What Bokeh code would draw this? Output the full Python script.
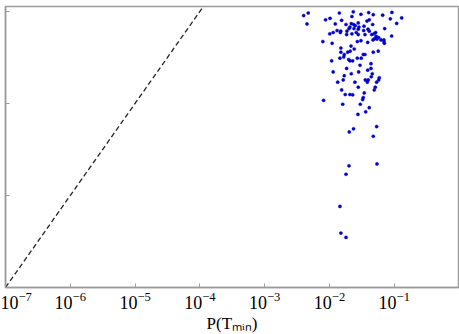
from bokeh.plotting import figure
from bokeh.embed import file_html
from bokeh.resources import INLINE
from bokeh.models import Range1d, FixedTicker

# Reference line y = x
diag_x = [1e-7, 1e-3]
diag_y = [1e-7, 1e-3]

# Scatter points: P(T_min) vs. value
px = [0.0040, 0.0047, 0.0045, 0.0087, 0.0102, 0.0142, 0.0123, 0.0154, 0.0233, 0.0222,
      0.0306, 0.0403, 0.0474, 0.0662, 0.092, 0.087, 0.130, 0.109, 0.0379, 0.0411,
      0.0464, 0.0278, 0.0217, 0.0236, 0.0250, 0.0207, 0.0180, 0.0341, 0.0285, 0.0239,
      0.0200, 0.0278, 0.0393, 0.0711, 0.0131, 0.0149, 0.0147, 0.0114, 0.0101, 0.0186,
      0.0222, 0.0184, 0.0259, 0.0278, 0.0337, 0.0353, 0.0411, 0.0448, 0.0486, 0.0516,
      0.0527, 0.0498, 0.0541, 0.0469, 0.0574, 0.0623, 0.0693, 0.0693, 0.0703, 0.091,
      0.0269, 0.0306, 0.0389, 0.0079, 0.0110, 0.0150, 0.0215, 0.0241, 0.0209, 0.0150,
      0.0191, 0.0169, 0.0166, 0.0145, 0.0332, 0.0353, 0.0474, 0.0566, 0.0198, 0.0207,
      0.0228, 0.0269, 0.0309, 0.0108, 0.0437, 0.0296, 0.0184, 0.0437, 0.0389, 0.0282,
      0.0458, 0.0114, 0.0217, 0.0169, 0.0442, 0.0163, 0.0357, 0.0397, 0.0383, 0.0587,
      0.0574, 0.0535, 0.0134, 0.0247, 0.0278, 0.0509, 0.0491, 0.0154, 0.0344, 0.0175,
      0.0207, 0.0228, 0.0332, 0.0325, 0.0081, 0.0160, 0.0299, 0.0411, 0.0362, 0.0275,
      0.0235, 0.0535, 0.0202, 0.0474, 0.0541, 0.0200, 0.0180, 0.0145, 0.0150, 0.0180]
py = [9.0e-5, 9.6e-5, 7.3e-5, 8.1e-5, 8.4e-5, 9.6e-5, 7.3e-5, 8.0e-5, 9.9e-5, 8.8e-5,
      9.3e-5, 9.7e-5, 9.2e-5, 9.1e-5, 9.75e-5, 8.3e-5, 8.5e-5, 7.4e-5, 7.85e-5, 8.1e-5,
      7.2e-5, 7.5e-5, 7.35e-5, 7.2e-5, 7.0e-5, 6.75e-5, 7.2e-5, 6.9e-5, 6.75e-5, 6.5e-5,
      6.5e-5, 6.4e-5, 6.4e-5, 6.5e-5, 6.2e-5, 6.1e-5, 5.9e-5, 5.9e-5, 5.7e-5, 6.1e-5,
      5.7e-5, 5.6e-5, 5.9e-5, 5.6e-5, 6.2e-5, 5.6e-5, 6.1e-5, 5.6e-5, 5.7e-5, 5.9e-5,
      5.35e-5, 5.05e-5, 5.0e-5, 4.9e-5, 5.2e-5, 4.9e-5, 4.9e-5, 4.7e-5, 4.5e-5, 5.4e-5,
      4.7e-5, 4.8e-5, 4.6e-5, 4.7e-5, 4.5e-5, 4.0e-5, 4.2e-5, 3.9e-5, 3.7e-5, 3.6e-5,
      3.6e-5, 3.4e-5, 3.2e-5, 3.1e-5, 3.4e-5, 3.4e-5, 3.6e-5, 3.7e-5, 3.0e-5, 2.9e-5,
      2.9e-5, 3.1e-5, 3.1e-5, 2.9e-5, 2.7e-5, 2.6e-5, 2.4e-5, 2.4e-5, 2.3e-5, 2.2e-5,
      2.1e-5, 2.2e-5, 2.1e-5, 2.0e-5, 1.95e-5, 1.8e-5, 1.8e-5, 1.8e-5, 1.7e-5, 1.9e-5,
      1.8e-5, 1.7e-5, 1.7e-5, 1.7e-5, 1.5e-5, 1.5e-5, 1.4e-5, 1.4e-5, 1.3e-5, 1.25e-5,
      1.25e-5, 1.24e-5, 1.16e-5, 1.1e-5, 1.08e-5, 9.8e-6, 9.8e-6, 9.0e-6, 8.1e-6, 7.6e-6,
      5.3e-6, 5.6e-6, 4.9e-6, 4.4e-6, 2.2e-6, 2.1e-6, 1.7e-6, 7.6e-7, 3.9e-7, 3.5e-7]

x_ticks = [1e-7, 1e-6, 1e-5, 1e-4, 1e-3, 1e-2, 1e-1]
y_ticks = [1e-7, 1e-6, 1e-5, 1e-4]
x_label = "P(Tₘᵢₙ)"

p = figure(x_axis_type="log", y_axis_type="log",
           x_range=Range1d(1e-7, 0.98), y_range=Range1d(1e-7, 1.13e-4),
           frame_width=453, frame_height=281,
           min_border_left=5, min_border_top=6, min_border_right=1, min_border_bottom=0,
           output_backend="svg", toolbar_location=None)

p.line(diag_x, diag_y, line_color="#222222", line_width=1.3, line_dash="5 3")
p.scatter(px, py, size=3.2, fill_color="#0000c8", line_color="#0000c8", line_width=0.4)

grey = "#9a9a9a"
p.outline_line_color = grey
p.outline_line_width = 1.5
p.xgrid.visible = False
p.ygrid.visible = False

p.xaxis.ticker = FixedTicker(ticks=x_ticks)
p.yaxis.ticker = FixedTicker(ticks=y_ticks)
for ax in (p.xaxis, p.yaxis):
    ax.axis_line_color = grey
    ax.axis_line_width = 1.5
    ax.major_tick_line_color = grey
    ax.major_tick_in = 4
    ax.major_tick_out = 0
    ax.minor_tick_line_color = None

p.xaxis.major_label_text_font = "Liberation Serif"
p.xaxis.major_label_text_font_size = "18px"
p.xaxis.major_label_text_color = "black"
p.xaxis.major_label_standoff = 4
p.xaxis.axis_label = x_label
p.xaxis.axis_label_text_font = "Liberation Serif"
p.xaxis.axis_label_text_font_style = "normal"
p.xaxis.axis_label_text_font_size = "17px"
p.xaxis.axis_label_text_color = "black"
p.xaxis.axis_label_standoff = 2

p.yaxis.major_label_text_font_size = "1px"
p.yaxis.major_label_text_color = None
p.yaxis.major_label_standoff = 0

open("out.html", "w").write(file_html(p, INLINE))
